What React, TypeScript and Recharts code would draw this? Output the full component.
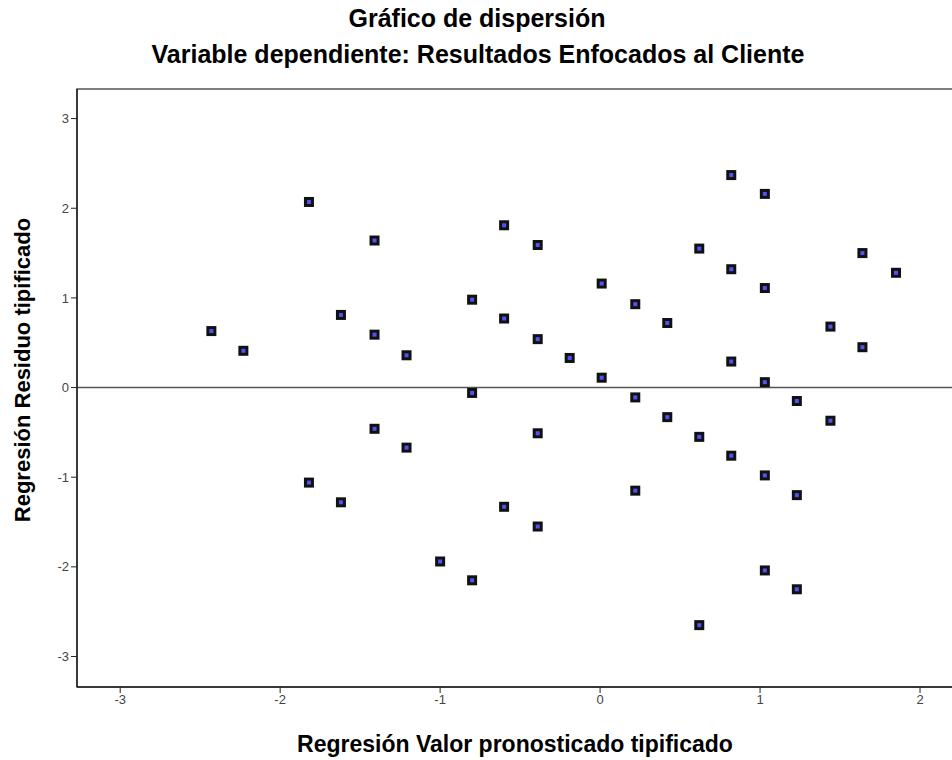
import { ScatterChart, Scatter, XAxis, YAxis, ReferenceLine, ReferenceArea } from 'recharts';

// Regresión Valor pronosticado tipificado (x) / Residuo tipificado (y)
const predicted = [
  -2.43, -2.23,
  -1.82, -1.82,
  -1.62, -1.62,
  -1.41, -1.41, -1.41,
  -1.21, -1.21,
  -1.0,
  -0.8, -0.8, -0.8,
  -0.6, -0.6, -0.6,
  -0.39, -0.39, -0.39, -0.39,
  -0.19,
  0.01, 0.01,
  0.22, 0.22, 0.22,
  0.42, 0.42,
  0.62, 0.62, 0.62,
  0.82, 0.82, 0.82, 0.82,
  1.03, 1.03, 1.03, 1.03, 1.03,
  1.23, 1.23, 1.23,
  1.44, 1.44,
  1.64, 1.64,
  1.85,
];
const residual = [
  0.63, 0.41,
  2.07, -1.06,
  0.81, -1.28,
  1.64, 0.59, -0.46,
  0.36, -0.67,
  -1.94,
  0.98, -0.06, -2.15,
  1.81, 0.77, -1.33,
  1.59, 0.54, -0.51, -1.55,
  0.33,
  1.16, 0.11,
  0.93, -0.11, -1.15,
  0.72, -0.33,
  1.55, -0.55, -2.65,
  2.37, 1.32, 0.29, -0.76,
  2.16, 1.11, 0.06, -0.98, -2.04,
  -0.15, -1.2, -2.25,
  0.68, -0.37,
  1.5, 0.45,
  1.28,
];
const xTicks = [-3, -2, -1, 0, 1, 2];
const yTicks = [-3, -2, -1, 0, 1, 2, 3];
const xDomain: [number, number] = [-3.27, 2.5];
const yDomain: [number, number] = [-3.34, 3.33];

const points = predicted.map((x, i) => ({ x, y: residual[i] }));

const font = '"Liberation Sans", Arial, sans-serif';

function Marker(props: any) {
  const { cx, cy } = props;
  return (
    <g>
      <rect x={cx - 5} y={cy - 5} width={10} height={10} fill="#111" />
      <rect x={cx - 2} y={cy - 2} width={4} height={4} fill="#5252f2" />
    </g>
  );
}

const textBox = (cx: number, top: number, size: number, bold: boolean) => ({
  position: 'absolute' as const,
  left: cx - 400,
  width: 800,
  top,
  textAlign: 'center' as const,
  fontSize: size,
  lineHeight: `${size + 4}px`,
  fontWeight: bold ? 'bold' : 'normal',
  color: '#000',
  whiteSpace: 'nowrap' as const,
});

export default function App() {
  return (
    <div
      style={{
        position: 'fixed',
        left: 0,
        top: 0,
        width: 952,
        height: 760,
        overflow: 'hidden',
        background: '#fff',
        fontFamily: font,
      }}
    >
      <div style={textBox(477, 4, 25, true)}>Gráfico de dispersión</div>
      <div style={textBox(478, 40, 25, true)}>Variable dependiente: Resultados Enfocados al Cliente</div>
      <div style={textBox(515, 731, 23, true)}>Regresión Valor pronosticado tipificado</div>
      <div style={{ ...textBox(23, 370 - 13, 22, true), transform: 'rotate(-90deg)' }}>
        Regresión Residuo tipificado
      </div>
      <ScatterChart width={1010} height={760} margin={{ top: 89, right: 10, bottom: 33, left: 0 }}>
        <XAxis
          type="number"
          dataKey="x"
          domain={xDomain}
          ticks={xTicks}
          allowDataOverflow
          height={40}
          tickSize={6}
          tickLine={{ stroke: '#222' }}
          axisLine={{ stroke: '#222', strokeWidth: 1.5 }}
          tick={{ fill: '#444', fontSize: 13, fontFamily: font }}
        />
        <YAxis
          type="number"
          dataKey="y"
          domain={yDomain}
          ticks={yTicks}
          allowDataOverflow
          width={77}
          tickSize={6}
          tickLine={{ stroke: '#222' }}
          axisLine={{ stroke: '#222', strokeWidth: 1.5 }}
          tick={{ fill: '#444', fontSize: 13, fontFamily: font }}
        />
        <ReferenceArea
          x1={xDomain[0]}
          x2={xDomain[1]}
          y1={yDomain[0]}
          y2={yDomain[1]}
          fill="none"
          stroke="#555"
          strokeWidth={1.5}
        />
        <ReferenceLine y={0} stroke="#555" strokeWidth={1.5} />
        <Scatter data={points} shape={Marker} isAnimationActive={false} />
      </ScatterChart>
    </div>
  );
}
